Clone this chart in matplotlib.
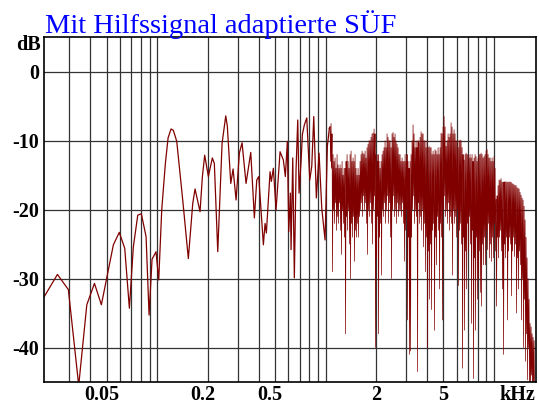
import numpy as np
import matplotlib
matplotlib.use('Agg')
import matplotlib.pyplot as plt
import matplotlib.transforms as mtransforms

title = 'Mit Hilfssignal adaptierte SÜF'

# smooth part below ~1 kHz, read point by point (kHz / dB)
freq_low = [0.0213, 0.0255, 0.0296, 0.0341, 0.0381, 0.0423, 0.0465, 0.0548, 0.0594, 0.064,
            0.0682, 0.072, 0.0765, 0.0803, 0.0857, 0.0893, 0.093, 0.0982, 0.1019, 0.1062,
            0.1116, 0.1158, 0.1206, 0.1245, 0.1304, 0.1415, 0.1528, 0.1623, 0.1675, 0.1793,
            0.1852, 0.1911, 0.201, 0.2122, 0.2181, 0.2285, 0.2424, 0.2549, 0.2605, 0.273,
            0.2818, 0.2936, 0.3071, 0.3186, 0.3365, 0.3589, 0.3771, 0.3896, 0.4004, 0.4265,
            0.4365, 0.4444, 0.4674, 0.4758, 0.489, 0.5074, 0.5359, 0.5606, 0.5761, 0.5921,
            0.6035, 0.617, 0.6229, 0.6375, 0.6516, 0.6669, 0.6826, 0.695, 0.7142, 0.7271,
            0.7472, 0.7722, 0.8046, 0.8269, 0.8497, 0.8805, 0.9136, 0.948, 0.9918, 1.0235,
            1.0519]
db_low = [-32.6, -29.4, -31.6, -45.5, -33.8, -30.7, -33.8, -25.1, -23.3, -25.6,
          -34.3, -25.4, -20.8, -20.6, -23.9, -35.3, -27.2, -26.1, -30.2, -20.0,
          -13.3, -9.6, -8.3, -8.5, -10.1, -18.6, -27.1, -19.1, -17.0, -20.3,
          -15.2, -12.1, -15.2, -12.5, -13.3, -26.1, -10.4, -6.4, -7.9, -16.2,
          -14.1, -18.6, -11.8, -10.3, -16.2, -11.7, -21.2, -15.7, -15.2, -25.1,
          -22.0, -23.4, -14.5, -15.9, -14.0, -20.0, -11.6, -12.8, -15.2, -10.1,
          -23.2, -17.6, -25.8, -12.5, -29.9, -14.2, -7.0, -17.6, -13.0, -9.1,
          -7.7, -6.7, -15.7, -13.7, -6.5, -18.3, -11.8, -19.8, -24.4, -10.8,
          -8.2]

# dense part above ~1 kHz: values on a log-spaced grid from dense_start to dense_stop
dense_start, dense_stop = 1.062, 17.43
db_dense = [
    -8, -13, -7.5, -14, -9, -29, -12, -20, -13, -22, -12.5, -19, -14, -23, -12, -21, -13.5, -22, -14, -19,
    -13.5, -23, -14, -26.5, -13, -20, -15, -22, -14, -24, -14, -38, -13, -21, -12, -23, -13, -20, -14, -25,
    -12, -30, -11.5, -22, -13, -24, -12.5, -21, -13, -27.5, -12, -23, -14, -24, -15, -22, -14, -24, -15, -21,
    -13, -20, -12, -19, -11.5, -21, -11.8, -18, -12, -20, -11.5, -19, -12.5, -22, -11, -26.5, -10.5, -20, -10, -21,
    -10, -19, -9.5, -22, -9, -25, -8.9, -20, -8.3, -18, -9, -40, -12, -27, -13, -21, -12, -38, -13, -24,
    -14, -22, -13, -29.5, -12, -20, -11.5, -21, -11, -19, -10, -22, -11, -20, -9, -18, -9.5, -22, -10, -19,
    -10, -24, -11, -30, -9, -20, -8.8, -18, -9.5, -21, -9, -20, -10, -22, -10.5, -19, -11, -21, -12, -20,
    -12, -20, -13, -21, -12.5, -19, -13, -22, -13, -27.5, -12, -23, -13, -20, -12, -36, -13, -24, -14, -41,
    -13, -40.5, -12, -24, -10, -20, -7.7, -18, -9, -22, -11, -20, -10, -21, -11, -43.5, -10, -19, -10.3, -22,
    -9.5, -21, -8.7, -23, -9, -20, -9, -25.4, -10, -22, -10, -29, -11, -24, -10, -40, -11, -26, -10.8, -33,
    -11, -25, -11, -34.5, -12, -23, -11.5, -22, -12, -37.5, -11.3, -24, -11.5, -28, -12, -21, -11, -23, -12, -31.5,
    -11, -22, -8.9, -24, -9, -36, -8, -20, -6.5, -18, -8, -21, -10.8, -20, -10, -22, -9, -19, -9.5, -23,
    -9, -21, -7.4, -22, -8, -29.5, -9, -20, -8.4, -22, -9, -21, -10, -24, -10, -20, -11, -31, -10, -23,
    -9.9, -22, -10, -25, -11, -43, -12, -24, -12.8, -37.5, -12, -26, -11.8, -31.5, -12, -22, -12, -26, -12.5, -21,
    -12, -25, -12.5, -36.5, -12, -23, -13, -44.5, -12.5, -27, -12, -37.5, -12.3, -24, -13, -33, -12.5, -30, -12, -26,
    -12, -32, -11.8, -34, -12, -25, -12.5, -28, -12.3, -24, -12, -28, -11.5, -23, -11.3, -25.8, -12, -22, -12.5, -27,
    -12.5, -25, -13, -27.5, -12.5, -24, -13, -27, -12.3, -22, -14, -26, -18.5, -34, -18, -24, -16.5, -27, -15.7, -24,
    -15.7, -23, -15.5, -26, -16, -31.5, -16, -41, -16, -25, -15.9, -27, -16, -24, -16, -36, -16, -26, -16, -24,
    -16, -25, -16, -32.5, -16.2, -26, -16.3, -24, -16.4, -26.8, -16.5, -25, -16.5, -35, -16.8, -27, -16.9, -31.5, -17, -26,
    -17.5, -28, -17.9, -36, -18.3, -30, -18.6, -40, -19.5, -33, -21.5, -42, -24, -38, -27, -44.7, -30, -40, -33, -46,
    -36.5, -46, -37, -44, -38, -47, -38.5, -46, -39, -47,
]

yticks = [0, -10, -20, -30, -40]
xlabel_pos = [0.05, 0.2, 0.5, 2, 5]
xlabel_txt = ['0.05', '0.2', '0.5', '2', '5']
grid_x = [0.03, 0.04, 0.05, 0.06, 0.07, 0.08, 0.09, 0.1,
          0.2, 0.3, 0.4, 0.5, 0.6, 0.7, 0.8, 0.9, 1,
          2, 3, 4, 5, 6, 7, 8, 9, 10]

freq_dense = np.geomspace(dense_start, dense_stop, len(db_dense))

plt.rcParams['font.family'] = ['Liberation Serif', 'DejaVu Serif']

fig = plt.figure(figsize=(5.39, 4.04), dpi=100)
ax = fig.add_axes([0.0822, 0.0545, 0.9117, 0.8532])

ax.plot(freq_low, db_low, color='#800000', lw=0.9)
# joining segment, then the dense part drawn a little thinner
ax.plot([freq_low[-1], freq_dense[0]], [db_low[-1], db_dense[0]], color='#800000', lw=0.9)
ax.plot(freq_dense, db_dense, color='#800000', lw=0.5)

ax.set_xscale('log')
ax.set_xlim(0.0213, 17.7)
ax.set_ylim(-45, 5)

ax.set_xticks(grid_x)
ax.set_xticklabels([])
ax.xaxis.set_minor_locator(matplotlib.ticker.NullLocator())
ax.set_yticks(yticks)
ax.set_yticklabels([str(v) for v in yticks], fontsize=14.5, fontweight='bold')
ax.tick_params(length=0)
ax.tick_params(axis='y', pad=4)
ax.grid(True, color='0.2', lw=0.9)
ax.set_axisbelow(True)
for sp in ax.spines.values():
    sp.set_linewidth(1.2)

# x labels sit a bit left of their grid line when they have a decimal point
for pos, txt in zip(xlabel_pos, xlabel_txt):
    dx = -5 if '.' in txt else 0
    off = mtransforms.ScaledTranslation(dx / 100, -3 / 100, fig.dpi_scale_trans)
    ax.text(pos, 0, txt, transform=ax.get_xaxis_transform() + off,
            ha='center', va='top', fontsize=14.5, fontweight='bold')

off = mtransforms.ScaledTranslation(0, -3 / 100, fig.dpi_scale_trans)
ax.text(13.7, 0, 'kHz', transform=ax.get_xaxis_transform() + off,
        ha='center', va='top', fontsize=14.5, fontweight='bold')

off = mtransforms.ScaledTranslation(-4 / 100, 0, fig.dpi_scale_trans)
ax.text(0, 3.85, 'dB', transform=ax.get_yaxis_transform() + off,
        ha='right', va='center', fontsize=14.5, fontweight='bold')

fig.text(0.0835, 1 - 33.3 / 404, title, color='#0000ff', fontsize=20.5,
         ha='left', va='baseline')

fig.savefig('out.png', dpi=100)
